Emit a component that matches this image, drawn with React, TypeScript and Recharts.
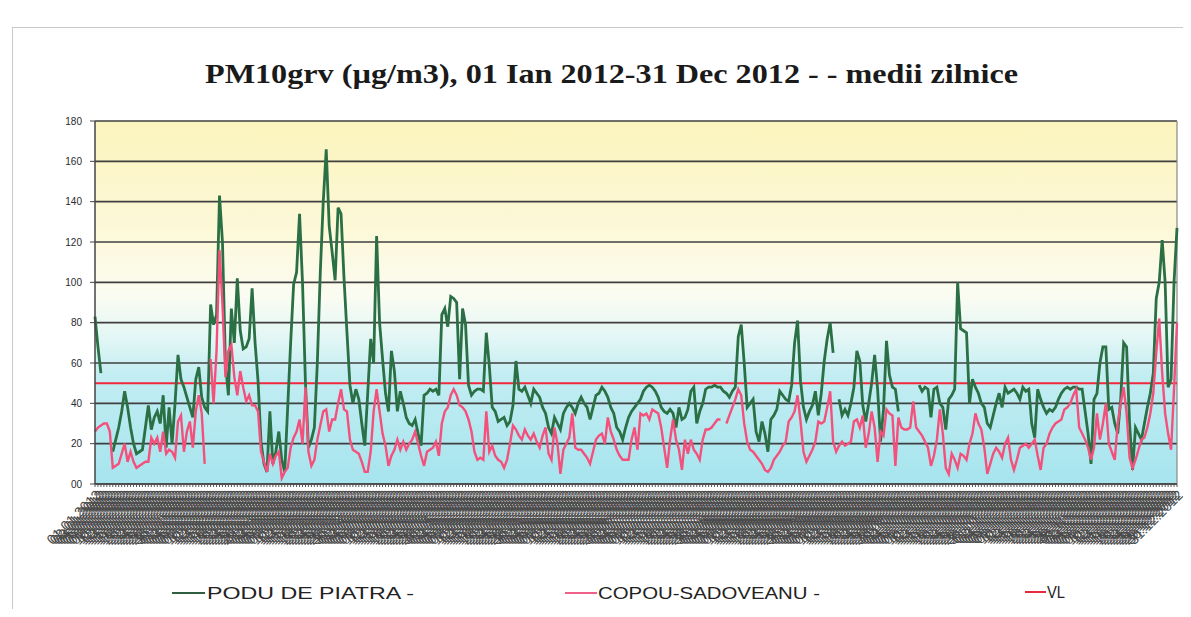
import React from 'react'
import { LineChart, Line, XAxis, YAxis, CartesianGrid, ReferenceLine } from 'recharts'

// daily means, 01.01.2012 - 31.12.2012 (null = no data)
const PODU = [
  83, 68, 55, null, null, null, 16, 22, 28, 36,
  46, 38, 28, 20, 15, 16, 17, 28, 39, 27,
  33, 36, 30, 44, 18, 38, 20, 40, 64, 52,
  48, 43, 38, 33, 52, 58, 43, 38, 36, 89,
  79, 84, 143, 120, 60, 44, 87, 70, 102, 76,
  67, 68, 72, 97, 70, 51, 21, 10, 6, 36,
  10, 16, 26, 12, 6, 38, 70, 99, 105, 134,
  100, 50, 18, 22, 28, 60, 105, 140, 166, 128,
  115, 101, 137, 134, 102, 75, 49, 40, 47, 42,
  30, 19, 45, 72, 60, 123, 80, 62, 45, 36,
  66, 56, 36, 46, 40, 33, 30, 29, 32, 25,
  19, 44, 45, 47, 46, 47, 44, 84, 87, 78,
  93, 92, 90, 52, 87, 79, 49, 44, 46, 47,
  47, 46, 75, 59, 38, 36, 31, 32, 33, 29,
  31, 39, 61, 47, 46, 48, 44, 40, 47, 45,
  43, 38, 35, 28, 25, 33, 30, 27, 35, 38,
  40, 38, 35, 40, 43, 40, 38, 32, 38, 44,
  45, 48, 46, 43, 38, 35, 28, 26, 22, 28,
  33, 36, 38, 40, 42, 46, 48, 49, 48, 46,
  43, 38, 36, 35, 37, 35, 28, 38, 32, 33,
  37, 46, 48, 30, 36, 40, 47, 48, 48, 49,
  48, 48, 46, 45, 43, 46, 48, 73, 79, 60,
  38, 40, 42, 26, 21, 31, 25, 16, 32, 34,
  37, 46, 44, 42, 41, 49, 70, 81, 51, 38,
  32, 36, 39, 46, 34, 45, 61, 72, 80, 65,
  null, 42, 34, 37, 34, 40, 48, 66, 61, 39,
  31, 40, 50, 64, 47, 21, 37, 71, 54, 48,
  47, 36, null, null, null, null, null, null, 49, 46,
  48, 47, 33, 47, 48, 40, 38, 27, 42, 44,
  47, 100, 77, 76, 75, 40, 52, 48, 45, 40,
  38, 30, 28, 34, 40, 45, 38, 48, 45, 46,
  47, 45, 42, 48, 46, 47, 30, 23, 47, 42,
  38, 35, 37, 36, 38, 42, 45, 47, 48, 47,
  48, 48, 47, 47, 36, 25, 10, 42, 45, 60,
  68, 68, 37, 38, 30, 25, 42, 70, 68, 30,
  7, 28, 25, 22, 30, 38, 45, 55, 92, 100,
  121, 100, 48, 52, 100, 127,
]

const COPOU = [
  26, 28, 29, 30, 30, 26, 8, 9, 10, 15,
  20, 11, 16, 11, 8, 9, 10, 11, 11, 23,
  20, 23, 16, 26, 15, 17, 16, 13, 31, 34,
  16, 26, 31, 18, 36, 44, 35, 10, null, 62,
  40, 66, 116, 89, 53, 66, 69, 53, 44, 56,
  48, 41, 44, 39, 39, 36, 16, 11, 6, 15,
  10, 14, 16, 3, 6, 8, 18, 23, 26, 32,
  20, 48, 16, 9, 12, 22, 29, 36, 37, 26,
  32, 32, 40, 47, 37, 36, 22, 17, 16, 15,
  11, 6, 6, 16, 36, 47, 36, 25, 19, 9,
  14, 17, 22, 17, 21, 17, 20, 22, 26, 20,
  14, 9, 16, 17, 18, 21, 14, 30, 36, 38,
  44, 47, 44, 39, 38, 36, 32, 26, 16, 12,
  13, 12, 36, 16, 19, 14, 12, 11, 8, 12,
  20, 29, 27, 24, 22, 27, 24, 22, 25, 21,
  18, 24, 28, 15, 12, 28, 20, 5, 17, 20,
  23, 35, 18, 17, 17, 15, 13, 10, 16, 22,
  24, 25, 20, 33, 26, 22, 17, 14, 12, 12,
  12, 22, 28, 17, 35, 34, 35, 32, 37, 36,
  35, 28, 18, 8, 22, 32, 22, 17, 7, 22,
  15, 22, 17, 15, 12, 22, 27, 27, 28, 30,
  32, 32, null, 30, 34, 38, 42, 47, 44, 30,
  21, 17, 16, 14, 12, 10, 7, 6, 8, 12,
  14, 16, 19, 21, 31, 33, 36, 44, 31, 16,
  11, 14, 17, 21, 31, 30, 31, 38, 46, 21,
  16, 19, 21, 19, 20, 21, 31, 32, 28, 34,
  18, 25, 36, 28, 11, 26, 24, 37, 35, 34,
  9, 33, 28, 27, 27, 28, 41, 28, 26, 24,
  21, 18, 9, 14, 22, 37, 25, 8, 5, 15,
  12, 8, 15, 14, 12, 20, 25, 35, 30, 27,
  18, 5, 10, 15, 18, 16, 13, 20, 23, 12,
  7, 12, 18, 19, 20, 18, 20, 22, 14, 7,
  18, 20, 25, 28, 30, 31, 32, 37, 38, 40,
  44, 47, 28, 25, 22, 18, 12, 18, 35, 22,
  30, 40, 20, 16, 12, 30, 40, 48, 35, 13,
  8, 12, 17, 22, 23, 28, 35, 45, 65, 82,
  55, 35, 25, 17, 47, 80,
]

const VL = 50
const Y_TICKS = [0, 20, 40, 60, 80, 100, 120, 140, 160, 180]
const MONTH_DAYS = [31, 29, 31, 30, 31, 30, 31, 31, 30, 31, 30, 31]

const pad = (n: number) => (n < 10 ? '0' + n : '' + n)

const DATES: string[] = []
MONTH_DAYS.forEach((len, m) => {
  for (let d = 1; d <= len; d++) DATES.push(`${pad(d)}.${pad(m + 1)}.2012`)
})

const data = DATES.map((date, i) => ({ date, podu: PODU[i], copou: COPOU[i] }))

export default function App() {
  return (
    <div style={{ position: 'relative', width: 1175, height: 601, fontFamily: 'Arial, "Liberation Sans", sans-serif' }}>
      {/* scan frame */}
      <div style={{ position: 'absolute', left: 4, top: 19, width: 1171, height: 582, borderTop: '1px solid #c9c9c9', borderLeft: '1px solid #c9c9c9' }} />

      <LineChart width={1175} height={561} data={data} margin={{ top: 113, right: 6, bottom: 0, left: 47 }}>
        <defs>
          <linearGradient id="plotBg" x1="0" y1="0" x2="0" y2="1">
            <stop offset="0%" stopColor="#fbf4bd" />
            <stop offset="30%" stopColor="#fcf8d8" />
            <stop offset="48%" stopColor="#fbfcf2" />
            <stop offset="60%" stopColor="#e2f6f5" />
            <stop offset="70%" stopColor="#c2edf2" />
            <stop offset="100%" stopColor="#a6e4ee" />
          </linearGradient>
        </defs>
        <CartesianGrid vertical={false} stroke="#3f3f3f" strokeWidth={1.6} fill="url(#plotBg)" fillOpacity={1} />
        <XAxis
          dataKey="date"
          interval={0}
          height={85}
          tickSize={3}
          tickLine={{ stroke: '#555' }}
          axisLine={{ stroke: '#444', strokeWidth: 1.5 }}
          tick={{ fontSize: 14, fill: '#4a4a4a', angle: -45, textAnchor: 'end' }}
        />
        <YAxis
          domain={[0, 180]}
          ticks={Y_TICKS}
          interval={0}
          width={40}
          tickSize={5}
          tickMargin={8}
          tickFormatter={(v: number) => (v === 0 ? '00' : String(v))}
          axisLine={{ stroke: '#444', strokeWidth: 1.5 }}
          tickLine={{ stroke: '#444' }}
          tick={{ fontSize: 10, fill: '#2a2a2a' }}
        />
        <ReferenceLine x={DATES[DATES.length - 1]} stroke="#888" strokeWidth={1.2} />
        <ReferenceLine y={VL} stroke="#f0283c" strokeWidth={2} />
        <Line type="linear" dataKey="podu" stroke="#2b6f45" strokeWidth={2.8} dot={false} isAnimationActive={false} />
        <Line type="linear" dataKey="copou" stroke="#f4507c" strokeWidth={2.4} dot={false} isAnimationActive={false} />
      </LineChart>

      <svg width={1175} height={601} style={{ position: 'absolute', left: 0, top: 0, pointerEvents: 'none' }}>
        <text x={197} y={75} textLength={813} lengthAdjust="spacingAndGlyphs" fontFamily='"Liberation Serif", serif' fontWeight="bold" fontSize={28} fill="#1a1a1a">
          PM10grv (µg/m3), 01 Ian 2012-31 Dec 2012 - - medii zilnice
        </text>

        <line x1={164} x2={197} y1={585} y2={585} stroke="#2f5f40" strokeWidth={2} />
        <text x={199} y={591} textLength={207} lengthAdjust="spacingAndGlyphs" fontSize={17} fill="#222">PODU DE PIATRA -</text>

        <line x1={557} x2={589} y1={585} y2={585} stroke="#f06088" strokeWidth={2} />
        <text x={590} y={591} textLength={222} lengthAdjust="spacingAndGlyphs" fontSize={17} fill="#222">COPOU-SADOVEANU -</text>

        <line x1={1017} x2={1038} y1={584} y2={584} stroke="#e8283c" strokeWidth={2} />
        <text x={1039} y={590} textLength={18} lengthAdjust="spacingAndGlyphs" fontSize={17} fill="#222">VL</text>
      </svg>
    </div>
  )
}
